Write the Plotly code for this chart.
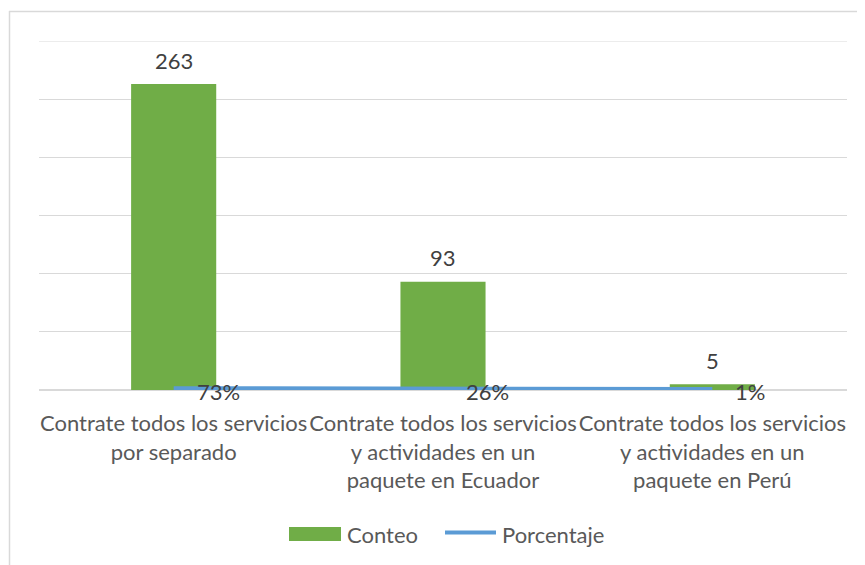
import plotly.graph_objects as go

categories = [
    "Contrate todos los servicios<br>por separado",
    "Contrate todos los servicios<br>y actividades en un<br>paquete en Ecuador",
    "Contrate todos los servicios<br>y actividades en un<br>paquete en Perú",
]
conteo = [263, 93, 5]
porcentaje = [0.73, 0.26, 0.01]
pct_labels = ["73%", "26%", "1%"]

OFF = 8  # page body margin of the html page
W, H = 865 - OFF, 565 - OFF
L, R, T, B = 39 - OFF, 18, 41 - OFF, 175
PW, PH = W - L - R, H - T - B

def px_x(px):  # px measured in the screenshot
    return (px - OFF - L) / PW

def px_y(py):
    return (H - B - (py - OFF)) / PH

FONT = "Lato"
TXT = "#595959"
GREEN = "#70AD47"
BLUE = "#5B9BD5"
GRID = "#D9D9D9"

fig = go.Figure()
fig.add_trace(go.Bar(
    x=categories, y=conteo, name="Conteo",
    marker=dict(color=GREEN, line=dict(width=0)),
    showlegend=False,
))
fig.add_trace(go.Scatter(
    x=categories, y=porcentaje, name="Porcentaje", mode="lines",
    line=dict(color=BLUE, width=6),
    showlegend=False,
))

annotations = []
for c, v in zip(categories, conteo):
    annotations.append(dict(
        x=c, y=v, xref="x", yref="y", text=str(v), showarrow=False,
        yanchor="middle", xanchor="center", yshift=24,
        font=dict(family=FONT, size=22, color="#404040"),
    ))
for c, v, t in zip(categories, porcentaje, pct_labels):
    annotations.append(dict(
        x=c, y=v, xref="x", yref="y", text=t, showarrow=False,
        yanchor="middle", xanchor="left", xshift=21, yshift=-2,
        font=dict(family=FONT, size=22, color="#404040"),
    ))

# custom legend
annotations.append(dict(
    x=px_x(345), y=px_y(534), xref="paper", yref="paper", text="Conteo",
    showarrow=False, xanchor="left", yanchor="middle",
    font=dict(family=FONT, size=22, color=TXT),
))
annotations.append(dict(
    x=px_x(500), y=px_y(534), xref="paper", yref="paper", text="Porcentaje",
    showarrow=False, xanchor="left", yanchor="middle",
    font=dict(family=FONT, size=22, color=TXT),
))

shapes = [
    dict(type="rect", xref="paper", yref="paper",
         x0=px_x(289), x1=px_x(341), y0=px_y(541), y1=px_y(527),
         fillcolor=GREEN, line=dict(width=0)),
    dict(type="line", xref="paper", yref="paper",
         x0=px_x(445), x1=px_x(496), y0=px_y(532.5), y1=px_y(532.5),
         line=dict(color=BLUE, width=4)),
    # chart border (extends past the visible area)
    dict(type="line", xref="paper", yref="paper",
         x0=px_x(9.5), x1=px_x(9.5), y0=px_y(600), y1=px_y(11),
         line=dict(color=GRID, width=1.5)),
    dict(type="line", xref="paper", yref="paper",
         x0=px_x(9), x1=px_x(900), y0=px_y(11.5), y1=px_y(11.5),
         line=dict(color=GRID, width=1.5)),
    # top gridline (value 300)
    dict(type="line", xref="paper", yref="y",
         x0=0, x1=1, y0=300, y1=300,
         line=dict(color=GRID, width=1), layer="below"),
]

fig.update_layout(
    width=W, height=H,
    margin=dict(l=L, r=R, t=T, b=B),
    paper_bgcolor="white", plot_bgcolor="white",
    bargap=0.684,
    showlegend=False,
    annotations=annotations,
    shapes=shapes,
    font=dict(family=FONT, size=22, color=TXT),
    xaxis=dict(
        showgrid=False, showline=False, zeroline=False, ticks="",
        tickfont=dict(family=FONT, size=22, color=TXT),
        ticklabelstandoff=18,
    ),
    yaxis=dict(
        range=[0, 300], dtick=50, showticklabels=False, ticks="",
        showgrid=True, gridcolor=GRID, gridwidth=1,
        zeroline=True, zerolinecolor=GRID, zerolinewidth=1.5,
        showline=False,
    ),
)

fig.write_html("out.html")
